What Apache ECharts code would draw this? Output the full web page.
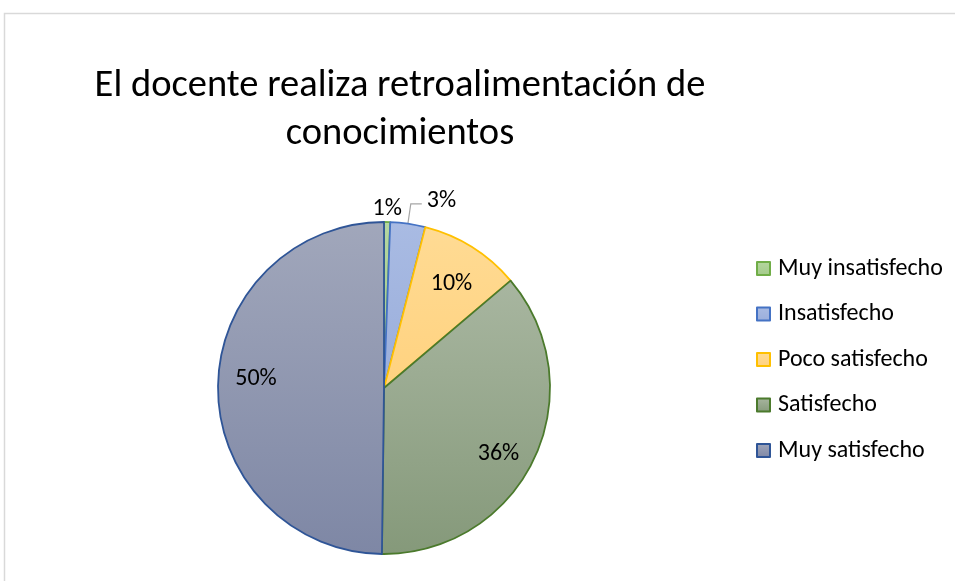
<!DOCTYPE html>
<html>
<head>
<meta charset="utf-8">
<script src="https://cdn.jsdelivr.net/npm/echarts@6/dist/echarts.min.js"></script>
<style>
  html, body { margin: 0; padding: 0; background: #ffffff; }
  #chart { width: 955px; height: 581px; }
</style>
</head>
<body>
<div id="chart"></div>
<script>
// Survey answers (share of responses, %)
const categories = ['Muy insatisfecho', 'Insatisfecho', 'Poco satisfecho', 'Satisfecho', 'Muy satisfecho'];
const shares = [0.6, 3.4, 9.8, 36.4, 49.8];

const titleText = 'El docente realiza retroalimentación de\nconocimientos';

// Slice styling: vertical gradient (top, bottom) and outline colour
const fillTop = ['#b5d7a0', '#a9bbe3', '#ffdb94', '#a8b6a0', '#a1a7bb'];
const fillBottom = ['#a3ca89', '#9aaedb', '#ffd27f', '#85997a', '#7e87a5'];
const outline = ['#70ad47', '#4472c4', '#ffc000', '#4b7a2c', '#2f5597'];

// Small nudges for the data labels, by slice index
const outerNudge = [[-31, 7], [0, -3]];
const innerNudge = [null, null, [-2, 7], [-4, 10], [3, -8]];

const FONT = 'Carlito, Calibri, Lato, sans-serif';

const chart = echarts.init(document.getElementById('chart'), null, { renderer: 'canvas' });

const pct = p => Math.round(p.percent) + '%';

// Visible slices; the two thin slices carry their labels outside
const sliceData = categories.map((name, i) => ({
  name: name,
  value: shares[i],
  itemStyle: {
    color: new echarts.graphic.LinearGradient(0, 0, 0, 1, [
      { offset: 0, color: fillTop[i] },
      { offset: 1, color: fillBottom[i] }
    ]),
    borderColor: outline[i],
    borderWidth: 1.8
  },
  label: { show: i < 2 },
  labelLine: { show: i === 1 }
}));

// Transparent ring used only to place the large slices' labels
const ringData = categories.map((name, i) => ({
  name: name,
  value: shares[i],
  label: { show: i >= 2 }
}));

const option = {
  backgroundColor: '#ffffff',
  animation: false,
  graphic: [{
    type: 'rect',
    silent: true,
    shape: { x: 4.5, y: 13.5, width: 1000, height: 700 },
    style: { fill: 'none', stroke: '#d9d9d9', lineWidth: 1.5 }
  }],
  title: {
    text: titleText,
    left: 395,
    top: 57,
    textAlign: 'center',
    textStyle: {
      fontFamily: FONT,
      fontWeight: 'normal',
      fontSize: 38.5,
      lineHeight: 48,
      color: '#000000'
    }
  },
  legend: {
    orient: 'vertical',
    left: 751,
    top: 251,
    data: categories,
    icon: 'rect',
    itemWidth: 13,
    itemHeight: 13,
    itemGap: 20.5,
    selectedMode: false,
    textStyle: {
      fontFamily: FONT,
      fontSize: 24,
      lineHeight: 25,
      color: '#000000',
      padding: [0, 0, 0, 3]
    }
  },
  series: [
    {
      type: 'pie',
      center: [384, 388],
      radius: [0, 166],
      startAngle: 90,
      clockwise: true,
      avoidLabelOverlap: false,
      data: sliceData,
      label: {
        position: 'outside',
        formatter: pct,
        fontFamily: FONT,
        fontSize: 24,
        color: '#000000',
        distanceToLabelLine: 5
      },
      labelLine: {
        show: true,
        length: 20,
        length2: 11,
        smooth: false,
        lineStyle: { color: '#a6a6a6', width: 1.2 }
      },
      labelLayout: function (params) {
        const n = outerNudge[params.dataIndex];
        return n ? { dx: n[0], dy: n[1] } : {};
      },
      emphasis: { disabled: true }
    },
    {
      type: 'pie',
      silent: true,
      center: [384, 388],
      radius: [90, 166],
      startAngle: 90,
      clockwise: true,
      avoidLabelOverlap: false,
      data: ringData,
      itemStyle: { color: 'rgba(0,0,0,0)', borderWidth: 0 },
      label: {
        position: 'inside',
        formatter: pct,
        fontFamily: FONT,
        fontSize: 24,
        color: '#000000'
      },
      labelLine: { show: false },
      labelLayout: function (params) {
        const n = innerNudge[params.dataIndex];
        return n ? { dx: n[0], dy: n[1] } : {};
      },
      emphasis: { disabled: true }
    }
  ]
};

chart.setOption(option);
</script>
</body>
</html>
